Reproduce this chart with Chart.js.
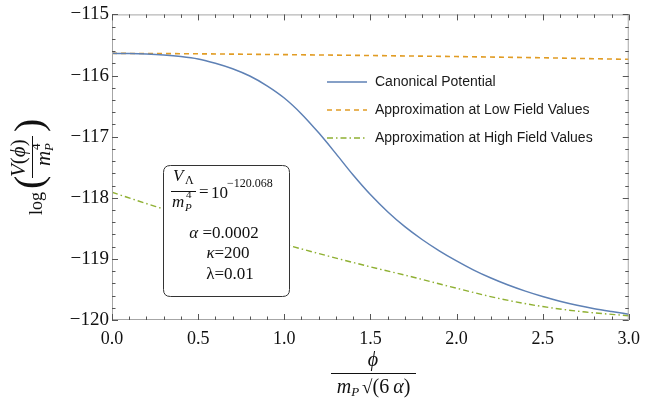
<!DOCTYPE html>
<html>
<head>
<meta charset="utf-8">
<script src="https://cdn.jsdelivr.net/npm/chart.js@4"></script>
<style>
html,body{margin:0;padding:0;background:#fff;}
#wrap{width:648px;height:404px;position:relative;}
</style>
</head>
<body>
<div id="wrap"><canvas id="c" width="648" height="404"></canvas></div>
<script>
// ---- data ----
const phiCanon = [0.0,0.1,0.2,0.3,0.4,0.5,0.6,0.7,0.8,0.9,1.0,1.1,1.2,1.3,1.4,1.5,1.6,1.7,1.8,1.9,2.0,2.1,2.2,2.3,2.4,2.5,2.6,2.7,2.8,2.9,3.0];
const canonical = [-115.637,-115.640,-115.648,-115.663,-115.688,-115.728,-115.798,-115.888,-116.008,-116.168,-116.368,-116.628,-116.938,-117.278,-117.628,-117.948,-118.228,-118.473,-118.683,-118.868,-119.033,-119.183,-119.313,-119.428,-119.528,-119.616,-119.692,-119.758,-119.815,-119.862,-119.905];
const phiLow = [0.0,0.5,1.0,1.5,2.0,2.5,3.0];
const lowField = [-115.637,-115.645,-115.658,-115.673,-115.690,-115.710,-115.735];
const phiHigh = [0.0,0.25,0.5,0.75,1.0,1.25,1.5,1.75,2.0,2.25,2.5,2.75,3.0];
const highField = [-117.91,-118.14,-118.35,-118.56,-118.76,-118.95,-119.13,-119.30,-119.48,-119.65,-119.78,-119.87,-119.93];
const seriesNames = ['Canonical Potential','Approximation at Low Field Values','Approximation at High Field Values'];
const yTicks = [-120,-119,-118,-117,-116,-115];
const xTicks = [0.0,0.5,1.0,1.5,2.0,2.5,3.0];

const BLUE = '#5E81B5', ORANGE = '#E19C24', GREEN = '#8FB032';
const SERIF = '"Liberation Serif","Times New Roman",serif';
const SANS = '"Liberation Sans",Arial,sans-serif';

function pts(xs, ys){ return xs.map((x,i)=>({x:x,y:ys[i]})); }

function runText(ctx, pieces, x, y){
  let cx = x;
  for(const p of pieces){
    ctx.font = p[1];
    ctx.fillText(p[0], cx + (p[2]||0), y + (p[3]||0));
    cx += ctx.measureText(p[0]).width + (p[2]||0) + (p[4]||0);
  }
  return cx;
}
function runWidth(ctx, pieces){
  let w = 0;
  for(const p of pieces){ ctx.font = p[1]; w += ctx.measureText(p[0]).width + (p[2]||0) + (p[4]||0); }
  return w;
}

const decor = {
  id:'decor',
  afterDatasetsDraw(chart){
    const ctx = chart.ctx, a = chart.chartArea;
    const xs = chart.scales.x, ys = chart.scales.y;
    ctx.save();
    // frame
    ctx.strokeStyle = '#a6a6a6'; ctx.lineWidth = 1;
    ctx.strokeRect(a.left+0.5, a.top+0.5, a.right-a.left-1, a.bottom-a.top-1);
    // ticks
    ctx.strokeStyle = '#555'; ctx.lineWidth = 1;
    ctx.beginPath();
    for(let i=0;i<=25;i++){
      const v = -120 + i*0.2;
      const y = Math.round(ys.getPixelForValue(v))+0.5;
      const len = (i%5===0)?6:3.5;
      ctx.moveTo(a.left, y); ctx.lineTo(a.left+len, y);
      ctx.moveTo(a.right, y); ctx.lineTo(a.right-len, y);
    }
    for(let i=0;i<=30;i++){
      const v = i*0.1;
      const x = Math.round(xs.getPixelForValue(v))+0.5;
      const len = (i%5===0)?6:3.5;
      ctx.moveTo(x, a.bottom); ctx.lineTo(x, a.bottom-len);
      ctx.moveTo(x, a.top); ctx.lineTo(x, a.top+len);
    }
    ctx.stroke();

    // legend
    const lx0 = 327, lx1 = 367, tx = 375, rows = [82,110,138];
    const styles = [[],[5,4],[6,3,1.5,3]];
    const cols = [BLUE, ORANGE, GREEN];
    for(let i=0;i<3;i++){
      ctx.beginPath(); ctx.setLineDash(styles[i]); ctx.strokeStyle = cols[i]; ctx.lineWidth = 1.5;
      ctx.moveTo(lx0, rows[i]); ctx.lineTo(lx1, rows[i]); ctx.stroke();
      ctx.setLineDash([]);
      ctx.fillStyle = '#1a1a1a'; ctx.font = '14px '+SANS; ctx.textBaseline='middle'; ctx.textAlign='left';
      ctx.fillText(seriesNames[i], tx, rows[i]+0.5);
    }

    // annotation box
    const bx=163.5, by=165.5, bw=126, bh=131, r=7;
    ctx.beginPath();
    ctx.moveTo(bx+r,by); ctx.lineTo(bx+bw-r,by); ctx.quadraticCurveTo(bx+bw,by,bx+bw,by+r);
    ctx.lineTo(bx+bw,by+bh-r); ctx.quadraticCurveTo(bx+bw,by+bh,bx+bw-r,by+bh);
    ctx.lineTo(bx+r,by+bh); ctx.quadraticCurveTo(bx,by+bh,bx,by+bh-r);
    ctx.lineTo(bx,by+r); ctx.quadraticCurveTo(bx,by,bx+r,by); ctx.closePath();
    ctx.fillStyle='#fff'; ctx.fill(); ctx.strokeStyle='#333'; ctx.lineWidth=1; ctx.stroke();

    ctx.fillStyle='#111'; ctx.strokeStyle='#111'; ctx.textBaseline='alphabetic'; ctx.textAlign='left';
    ctx.font='italic 17px '+SERIF; ctx.fillText('V',173,181);
    ctx.font='12px '+SERIF; ctx.fillText('\u039B',185,184);
    ctx.beginPath(); ctx.moveTo(171,191.5); ctx.lineTo(196,191.5); ctx.lineWidth=1; ctx.stroke();
    ctx.font='italic 17px '+SERIF; ctx.fillText('m',172,207);
    ctx.font='italic 11px '+SERIF; ctx.fillText('P',185,211);
    ctx.font='11px '+SERIF; ctx.fillText('4',186,198);
    ctx.font='17px '+SERIF; ctx.fillText('=',199,197); ctx.fillText('10',211,198);
    ctx.font='12px '+SERIF; ctx.fillText('\u2212120.068',227,187);
    let pc = [['\u03B1','italic 17px '+SERIF],[' =0.0002','17px '+SERIF]];
    runText(ctx, pc, 224-runWidth(ctx,pc)/2, 238);
    pc = [['\u03BA','italic 17px '+SERIF],['=200','17px '+SERIF]];
    runText(ctx, pc, 228-runWidth(ctx,pc)/2, 258);
    pc = [['\u03BB=0.01','17px '+SERIF]];
    runText(ctx, pc, 230-runWidth(ctx,pc)/2, 279);

    // x-axis title
    ctx.textAlign='center';
    ctx.font='italic 20px '+SERIF; ctx.fillText('\u03D5',373,366);
    ctx.beginPath(); ctx.moveTo(331,373.5); ctx.lineTo(416,373.5); ctx.stroke();
    ctx.textAlign='left';
    pc = [['m','italic 20px '+SERIF],['P','italic 13px '+SERIF,0,3,3],['\u221A','19px '+SERIF,0,0,0],['(6','20px '+SERIF,0,0,4],['\u03B1','italic 20px '+SERIF],[')','20px '+SERIF]];
    runText(ctx, pc, 373.5-runWidth(ctx,pc)/2, 393);

    // y-axis title (rotated)
    ctx.save();
    ctx.translate(32,0);
    ctx.rotate(-Math.PI/2);
    ctx.textAlign='left';
    ctx.font='18px '+SERIF; ctx.fillText('log',-215,10);
    ctx.font='40px '+SERIF; ctx.fillText('(',-189,10); ctx.fillText(')',-132,10);
    runText(ctx, [['V','italic 21px '+SERIF],['(','21px '+SERIF],['\u03D5','italic 21px '+SERIF],[')','21px '+SERIF]], -177, -7);
    ctx.beginPath(); ctx.moveTo(-178,0.5); ctx.lineTo(-136,0.5); ctx.lineWidth=1; ctx.stroke();
    ctx.font='italic 21px '+SERIF; ctx.fillText('m',-166,18);
    ctx.font='italic 13px '+SERIF; ctx.fillText('P',-151,21);
    ctx.font='13px '+SERIF; ctx.fillText('4',-150,8);
    ctx.restore();
    ctx.restore();
  }
};

new Chart(document.getElementById('c'), {
  type:'line',
  data:{datasets:[
    {label:seriesNames[0], data:pts(phiCanon,canonical), borderColor:BLUE, borderWidth:1.5, pointRadius:0, cubicInterpolationMode:'monotone', fill:false},
    {label:seriesNames[1], data:pts(phiLow,lowField), borderColor:ORANGE, borderWidth:1.6, borderDash:[5,4], pointRadius:0, cubicInterpolationMode:'monotone', fill:false},
    {label:seriesNames[2], data:pts(phiHigh,highField), borderColor:GREEN, borderWidth:1.4, borderDash:[6,3,1.5,3], pointRadius:0, cubicInterpolationMode:'monotone', fill:false}
  ]},
  options:{
    responsive:false, animation:false, devicePixelRatio:1,
    layout:{padding:{top:12,right:14,left:0,bottom:0}},
    plugins:{legend:{display:false}, tooltip:{enabled:false}},
    scales:{
      x:{type:'linear', min:0, max:3,
        afterFit(s){ s.height = 84; },
        afterBuildTicks(s){ s.ticks = xTicks.map(v=>({value:v})); },
        grid:{display:false, drawTicks:false}, border:{display:false},
        ticks:{padding:8, color:'#111', font:{family:SERIF, size:18}, maxRotation:0, autoSkip:false,
          callback:(v)=>Number(v).toFixed(1)}},
      y:{type:'linear', min:-120, max:-115,
        afterFit(s){ s.width = 112; },
        afterBuildTicks(s){ s.ticks = yTicks.map(v=>({value:v})); },
        grid:{display:false, drawTicks:false}, border:{display:false},
        ticks:{padding:3, color:'#111', font:{family:SERIF, size:19}, autoSkip:false,
          callback:(v)=>(v<0?'\u2212':'')+Math.abs(v)}}
    }
  },
  plugins:[decor]
});
</script>
</body>
</html>
